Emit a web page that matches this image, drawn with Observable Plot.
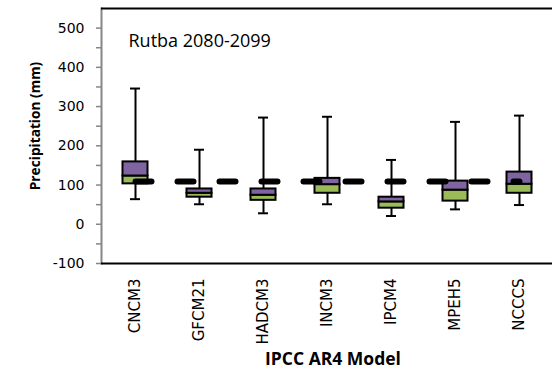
<!DOCTYPE html>
<html>
<head>
<meta charset="utf-8">
<script src="https://cdn.jsdelivr.net/npm/d3@7"></script>
<script src="https://cdn.jsdelivr.net/npm/@observablehq/plot@0.6"></script>
<style>
  html, body { margin: 0; padding: 0; background: #fff; }
  #chart { width: 552px; height: 371px; }
</style>
</head>
<body>
<div id="chart"></div>
<script>
// ---- data ----
const models   = ["CNCM3", "GFCM21", "HADCM3", "INCM3", "IPCM4", "MPEH5", "NCCCS"];
const mins     = [64, 51, 28, 51, 21, 38, 49];
const q1s      = [103, 69, 61, 79, 41, 59, 79];
const medians  = [123, 79, 74, 101, 57, 87, 102];
const q3s      = [159, 90, 90, 117, 69, 110, 133];
const maxs     = [346, 190, 272, 274, 164, 261, 277];
const observed = [109, 109, 109, 109, 109, 109, 109];
const yTicks      = [-100, 0, 100, 200, 300, 400, 500];
const yMinorTicks = [-50, 50, 150, 250, 350, 450];
const yDomain     = [-100, 550];
const title  = "Rutba 2080-2099";
const yLabel = "Precipitation (mm)";
const xLabel = "IPCC AR4 Model";

const data = models.map((m, i) => ({
  model: m, min: mins[i], q1: q1s[i], median: medians[i], q3: q3s[i], max: maxs[i], obs: observed[i]
}));

const green = "#9BBB59", purple = "#8064A2";

const chart = Plot.plot({
  width: 552,
  height: 371,
  marginLeft: 101,
  marginRight: 0,
  marginTop: 8,
  marginBottom: 108,
  style: { background: "white", fontFamily: "DejaVu Sans" },
  x: { type: "band", domain: models, padding: 0, label: null },
  y: { domain: yDomain, label: null },
  marks: [
    Plot.frame({ anchor: "left", stroke: "#868686", strokeWidth: 2 }),
    Plot.ruleY([yDomain[1]], { stroke: "black", strokeWidth: 2 }),
    Plot.axisY({ ticks: yMinorTicks, tickSize: 5, tickFormat: () => "", stroke: "#868686", strokeWidth: 1.5, label: null }),
    Plot.axisY({ ticks: yTicks, tickSize: 5, tickPadding: 12, tickFormat: d => String(d), fontSize: 14, fontFamily: "DejaVu Sans", fill: "#000", stroke: "#868686", strokeWidth: 1.5, label: null }),
    Plot.axisX({ tickSize: 0, tickRotate: -90, tickPadding: 15, fontSize: 15, fontFamily: "DejaVu Sans", fill: "#000", label: null }),
    Plot.ruleX(data, { x: "model", y1: "min", y2: "max", stroke: "black", strokeWidth: 2 }),
    Plot.tickY(data, { x: "model", y: "min", stroke: "black", strokeWidth: 2, insetLeft: 27, insetRight: 27 }),
    Plot.tickY(data, { x: "model", y: "max", stroke: "black", strokeWidth: 2, insetLeft: 27, insetRight: 27 }),
    Plot.barY(data, { x: "model", y1: "q1", y2: "median", fill: green, stroke: "black", strokeWidth: 2, insetLeft: 19.5, insetRight: 19.5 }),
    Plot.barY(data, { x: "model", y1: "median", y2: "q3", fill: purple, stroke: "black", strokeWidth: 2, insetLeft: 19.5, insetRight: 19.5 }),
    Plot.lineY(data, { x: "model", y: "obs", stroke: "black", strokeWidth: 6, strokeDasharray: "16,26", strokeLinecap: "round" }),
    Plot.ruleY([yDomain[0]], { stroke: "black", strokeWidth: 2 }),
    Plot.text([title], { frameAnchor: "top-left", textAnchor: "start", lineAnchor: "top", dx: 27, dy: 26, fontSize: 18, fontFamily: "Open Sans", fill: "#000" }),
    Plot.text([yLabel], { frameAnchor: "left", rotate: -90, textAnchor: "middle", lineAnchor: "middle", dx: -66, dy: -10, fontSize: 13.7, fontWeight: "bold", fontFamily: "Open Sans", fill: "#000" }),
    Plot.text([xLabel], { frameAnchor: "bottom", textAnchor: "middle", lineAnchor: "top", dx: 6, dy: 89, fontSize: 17.5, fontWeight: "bold", fontFamily: "Open Sans", fill: "#000" })
  ]
});
document.getElementById("chart").appendChild(chart);
</script>
</body>
</html>
